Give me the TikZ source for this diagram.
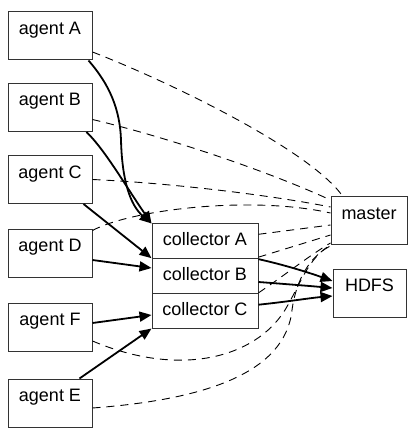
\documentclass[tikz,border=0pt]{standalone}
\usepackage{fontspec}
\setmainfont{Liberation Sans}
\usetikzlibrary{arrows.meta,calc}
\begin{document}
\begin{tikzpicture}[x=1pt,y=-1pt,
  box/.style={draw=black!80, line width=1pt, inner xsep=0pt, inner ysep=0pt,
    text height=22.5pt, text depth=25.5pt, minimum width=84pt,
    font=\fontsize{18}{20}\selectfont},
  coll/.style={box, text height=22pt, text depth=12.7pt, minimum width=106pt},
  flow/.style={line width=1.8pt, -{Triangle[length=12pt,width=10pt]}},
  ctrl/.style={line width=0.9pt, dash pattern=on 8pt off 6pt}]
\useasboundingbox (0,0) rectangle (412,433);

% nodes
\node[box] (agA) at (50,36) {agent A};
\node[box] (agB) at (50,107.5) {agent B};
\node[box] (agC) at (50,179.5) {agent C};
\node[box] (agD) at (50,253) {agent D};
\node[box] (agF) at (50,327) {agent F};
\node[box] (agE) at (50,403) {agent E};
\node[coll] (colA) at (205,241.3) {collector A};
\node[coll] (colB) at (205,276) {collector B};
\node[coll] (colC) at (205,310.7) {collector C};
\node[box, minimum width=76pt] (master) at (369,220.5) {master};
\node[box, minimum width=73pt] (hdfs) at (369.5,293) {HDFS};

% dashed control edges to master
\draw[ctrl] ($(agA.east)+(0,16)$) .. controls (170,82) and (310,150) .. ($(master.north west)+(12,0)$);
\draw[ctrl] ($(agB.east)+(0,12)$) .. controls (170,138) and (270,172) .. ($(master.north west)+(0,4)$);
\draw[ctrl] (agC.east) .. controls (170,183) and (270,195) .. ($(master.north west)+(0,11)$);
\draw[ctrl] ($(agD.north east)+(0,2)$) .. controls (130,210) and (250,195) .. ($(master.north west)+(0,17)$);
\draw[ctrl] ($(colA.east)+(0,-7)$) -- ($(master.north west)+(0,29)$);
\draw[ctrl] ($(colB.north east)+(0,-1)$) -- ($(master.north west)+(0,39)$);
\draw[ctrl] (colC.north east) .. controls (285,275) and (310,255) .. ($(master.south west)+(0,-2)$);
\draw[ctrl] ($(agF.east)+(0,14)$) .. controls (180,378) and (255,358) .. (285,310)
  .. controls (300,285) and (308,258) .. (master.south west);
\draw[ctrl] ($(agE.east)+(0,5)$) .. controls (200,400) and (285,375) .. (292,310)
  .. controls (296,280) and (310,255) .. ($(master.south west)+(2,0)$);

% data flow edges
\draw[flow] ($(agA.south east)+(-4,0)$) .. controls (110,85) and (120,110) .. (121,140)
  .. controls (122,180) and (130,205) .. (colA.north west);
\draw[flow] ($(agB.south east)+(-6,0)$) .. controls (105,150) and (125,185) .. (colA.north west);
\draw[flow] ($(agC.south east)+(-9,0)$) -- (colB.north west);
\draw[flow] ($(agD.east)+(0,7)$) -- ($(colB.west)+(0,-8)$);
\draw[flow] ($(agF.east)+(0,-4)$) -- ($(colC.west)+(0,4.3)$);
\draw[flow] ($(agE.north east)+(-13,0)$) -- (colC.south west);
\draw[flow] (colA.south east) .. controls (285,265) and (310,273) .. ($(hdfs.west)+(0,-12)$);
\draw[flow] ($(colB.east)+(0,6)$) .. controls (285,284) and (310,286) .. ($(hdfs.west)+(0,-5)$);
\draw[flow] ($(colC.east)+(0,-6)$) .. controls (285,302) and (310,298) .. ($(hdfs.west)+(0,3)$);
\end{tikzpicture}
\end{document}
